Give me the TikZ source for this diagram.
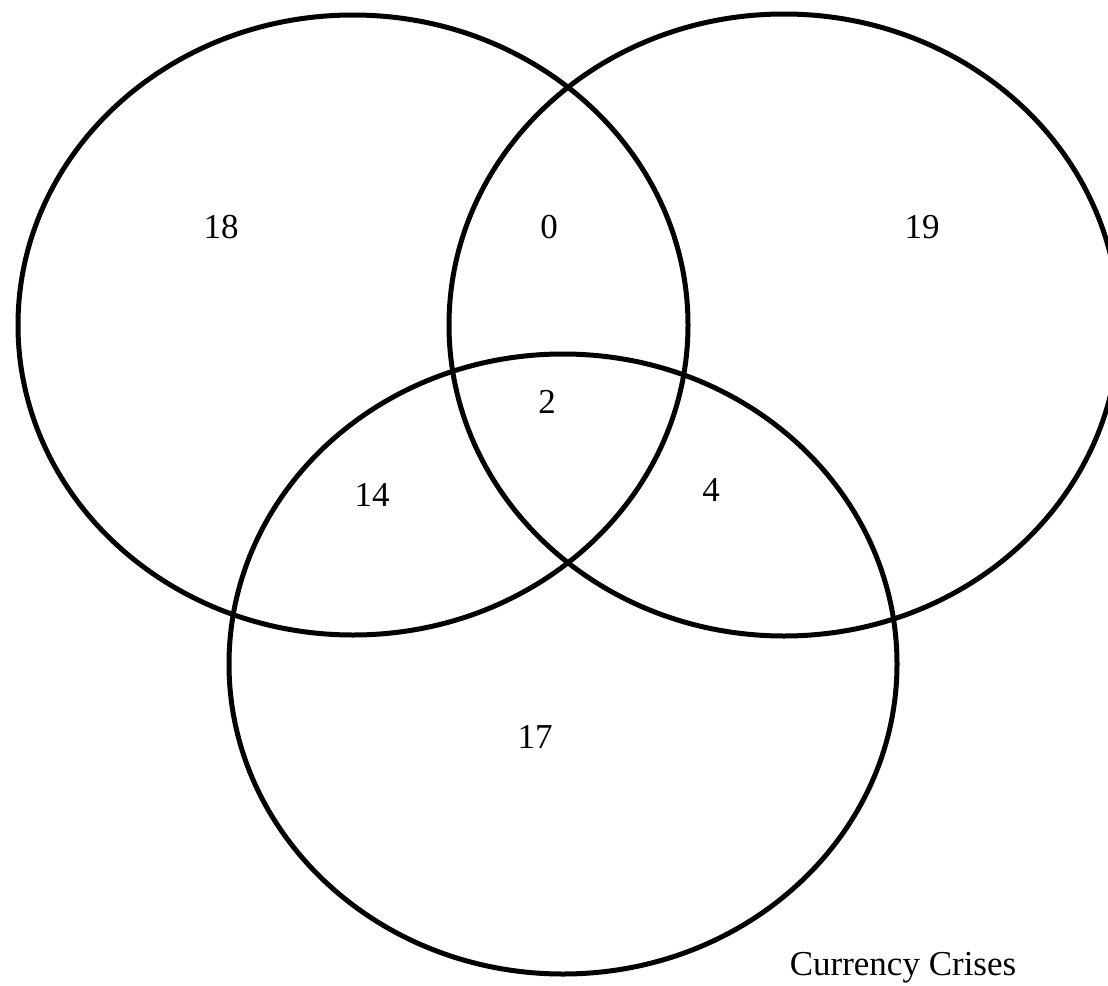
\documentclass[tikz,border=0pt]{standalone}
\usepackage{fontspec}
\setmainfont{Liberation Serif}
\begin{document}
\begin{tikzpicture}[x=1pt,y=-1pt,
  setline/.style={line width=5pt, draw=black},
  lbl/.style={anchor=base, inner sep=0pt, font=\fontsize{35}{40}\selectfont}]
\useasboundingbox (0,0) rectangle (1108,985);
\clip (0,0) rectangle (1108,985);
\draw[setline] (353,325) ellipse [x radius=335, y radius=310];
\draw[setline] (784,325) ellipse [x radius=335, y radius=311];
\draw[setline] (563,664) ellipse [x radius=334, y radius=310];
\node[lbl] (a) at (221,238) {18};
\node[lbl] (ab) at (549,238) {0};
\node[lbl] (b) at (922,238) {19};
\node[lbl] (abc) at (547,413) {2};
\node[lbl] (ac) at (372,506) {14};
\node[lbl] (bc) at (711,501) {4};
\node[lbl] (c) at (535,748) {17};
\node[lbl] (title) at (903,975) {Currency Crises};
\end{tikzpicture}
\end{document}
